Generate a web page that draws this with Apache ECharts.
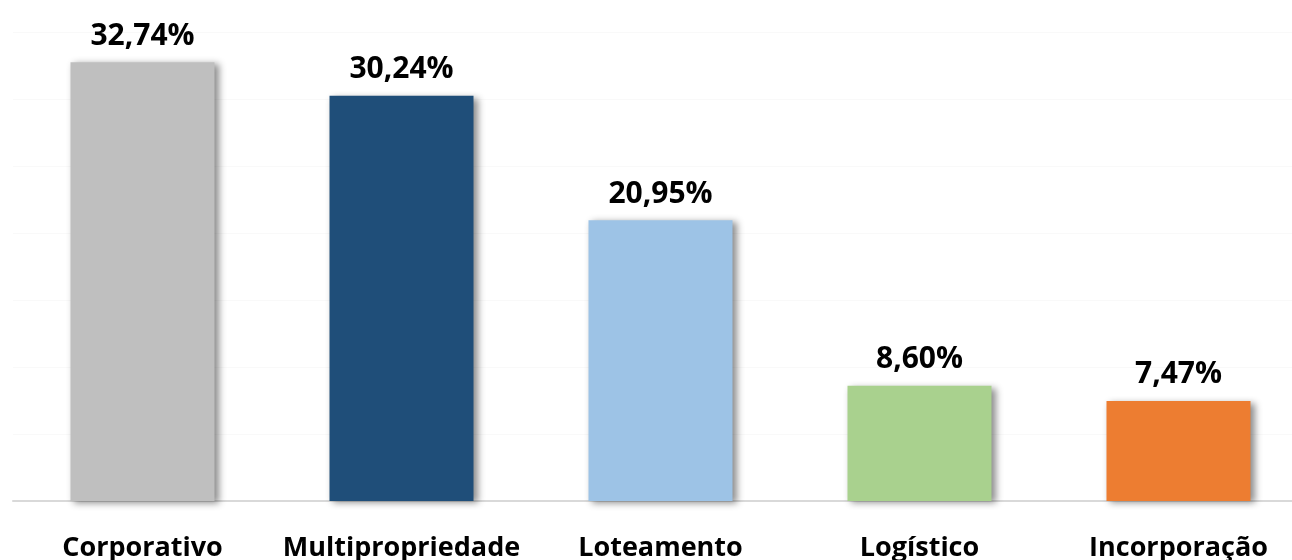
<!DOCTYPE html>
<html>
<head>
<meta charset="utf-8">
<script src="https://cdn.jsdelivr.net/npm/echarts@6/dist/echarts.min.js"></script>
<style>
    html, body { margin: 0; padding: 0; background: #fff; }
    #chart { width: 1292px; height: 560px; }
</style>
</head>
<body>
<div id="chart"></div>
<script>
    const categories = ['Corporativo', 'Multipropriedade', 'Loteamento', 'Logístico', 'Incorporação'];
    const shares = [32.74, 30.24, 20.95, 8.60, 7.47];
    const barColors = ['#bfbfbf', '#1f4e79', '#9dc3e6', '#a9d18e', '#ed7d31'];

    let chart = echarts.init(document.getElementById('chart'));
    let option = {
        animation: false,
        grid: { left: 13, top: 32, width: 1295, height: 469, outerBoundsMode: 'none', containLabel: false },
        xAxis: {
            type: 'category',
            data: categories,
            axisLine: { lineStyle: { color: '#d9d9d9', width: 2 } },
            axisTick: { show: false },
            axisLabel: {
                interval: 0,
                margin: 34,
                fontFamily: 'Open Sans',
                fontWeight: 'bold',
                fontSize: 27,
                color: '#000'
            }
        },
        yAxis: {
            type: 'value',
            min: 0,
            max: 35,
            interval: 5,
            axisLabel: { show: false },
            axisLine: { show: false },
            axisTick: { show: false },
            splitLine: { lineStyle: { color: '#f9f9f9' } }
        },
        series: [{
            type: 'bar',
            barWidth: '55.6%',
            data: shares.map(function (v, i) {
                return { value: v, itemStyle: { color: barColors[i] } };
            }),
            itemStyle: {
                shadowColor: 'rgba(0,0,0,0.45)',
                shadowBlur: 7,
                shadowOffsetX: 4,
                shadowOffsetY: 2
            },
            label: {
                show: true,
                position: 'top',
                distance: 11,
                fontFamily: 'Open Sans',
                fontWeight: 'bold',
                fontSize: 30,
                color: '#000',
                formatter: function (p) {
                    return p.value.toFixed(2).replace('.', ',') + '%';
                }
            }
        }]
    };
    chart.setOption(option);
</script>
</body>
</html>
